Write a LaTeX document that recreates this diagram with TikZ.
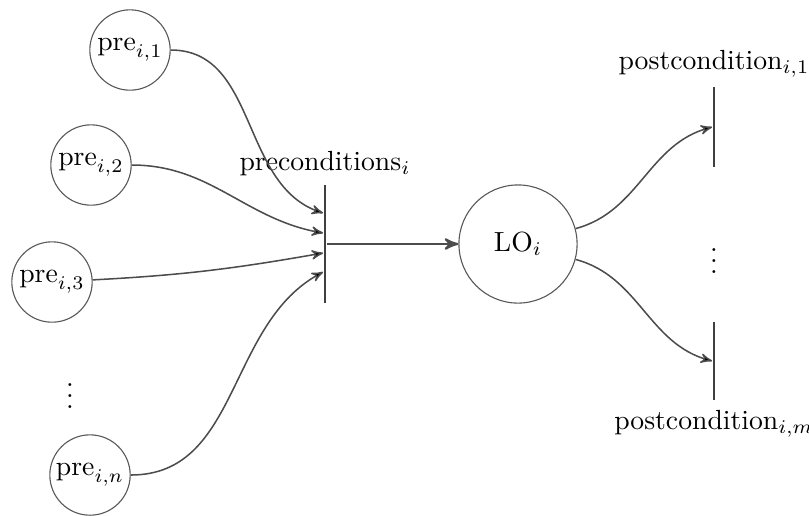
\documentclass[tikz,border=0pt]{standalone}
\usepackage{tikz}
\usetikzlibrary{arrows,automata,positioning,calc}
\usepackage{amsmath}

\begin{document}
\begin{tikzpicture}[>=stealth',auto,x=0.0127cm,y=-0.0127cm,
                    every state/.style={draw=black!65,thin,minimum size=1.02cm,inner sep=0pt},
                    bar/.style={fill=black!75,minimum width=1pt,minimum height=1.5cm,inner sep=0pt},
                    link/.style={->,draw=black!70,line width=0.55pt},
                    lbl/.style={inner sep=1pt}]
                  \useasboundingbox (0,0) rectangle (809,515);
                  \node[state]  		(p1) at (130,50)  {$\mathrm{pre}_{i,1}$};
                  \node[state]          (p2) at (91,165)  {$\mathrm{pre}_{i,2}$};
                  \node[state] 			(p3) at (52,282)  {$\mathrm{pre}_{i,3}$};
                  \node                 (pd) at (70,388)  {$\vdots$};
                  \node[state] 			(pn) at (90,475)  {$\mathrm{pre}_{i,n}$};
                  \node[bar]            (pc) at (325,244) {};
                  \node[state,minimum size=1.5cm] (lo) at (518,244) {$\mathrm{LO}_i$};
                  \node[bar,minimum height=1.02cm] (q1) at (714,127) {};
                  \node                 (qd) at (714,253) {$\vdots$};
                  \node[bar,minimum height=1cm]    (q2) at (714,361) {};

                  \node[lbl] (pcl) [above=2pt of pc] {preconditions$_i$};
                  \node[lbl] (q1l) [above=2pt of q1] {postcondition$_{i,1}$};
                  \node[lbl] (q2l) [below=2pt of q2] {postcondition$_{i,m}$};

                  \coordinate (in1) at ($(pc.west)+(0,-31)$);
                  \coordinate (in2) at ($(pc.west)+(0,-11)$);
                  \coordinate (in3) at ($(pc.west)+(0,9)$);
                  \coordinate (in4) at ($(pc.west)+(0,28)$);

                      \draw[link] 
                               (p1) edge [out=0,in=162] (in1)
                               (p2) edge [out=0,in=170] (in2)
                               (p3) edge [out=3,in=190] (in3)
                               (pn) edge [out=0,in=208] (in4)
                               (lo) edge [out=15,in=195] (q1.west)
                                    edge [out=-15,in=165] (q2.west);
                      \draw[link,thick] (pc) -- (lo);
        \end{tikzpicture}
\end{document}
